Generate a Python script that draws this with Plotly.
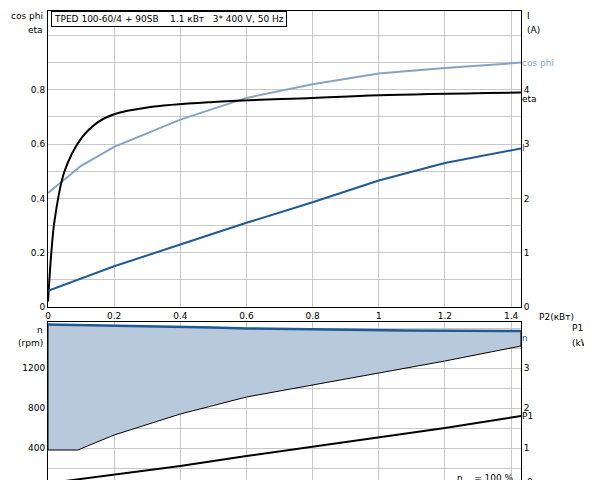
import plotly.graph_objects as go

# top chart: cos phi, eta (left), I (right) vs P2
p2_cos = [0, 0.1, 0.2, 0.4, 0.6, 0.8, 1.0, 1.2, 1.43]
cos_phi = [0.42, 0.52, 0.59, 0.69, 0.77, 0.82, 0.86, 0.88, 0.90]
p2_eta = [0, 0.01, 0.02, 0.05, 0.1, 0.15, 0.2, 0.3, 0.5, 0.8, 1.0, 1.43]
eta = [0.02, 0.2, 0.32, 0.5, 0.62, 0.68, 0.71, 0.735, 0.755, 0.77, 0.78, 0.79]
p2_i = [0, 0.2, 0.4, 0.6, 0.8, 1.0, 1.2, 1.43]
current = [0.3, 0.75, 1.15, 1.55, 1.93, 2.33, 2.65, 2.92]

# bottom chart: speed band (rpm) and P1 (kW)
p2_n = [0, 0.2, 0.35, 0.5, 0.6, 0.8, 1.08, 1.43]
n_max = [1635, 1625, 1615, 1605, 1595, 1585, 1575, 1570]
p2_nmin = [0, 0.09, 0.2, 0.4, 0.6, 0.8, 1.0, 1.2, 1.43]
n_min = [380, 380, 530, 740, 910, 1030, 1150, 1270, 1420]
p2_p1 = [0, 0.2, 0.4, 0.6, 0.8, 1.0, 1.2, 1.43]
p1 = [0.12, 0.33, 0.55, 0.8, 1.03, 1.27, 1.5, 1.8]

blue = "#1f5a96"
light = "#87a3c3"
grid = "#c8c8c8"
font = dict(family="DejaVu Sans", size=9, color="black")

fig = go.Figure()
fig.add_trace(go.Scatter(x=p2_cos, y=cos_phi, mode="lines", line=dict(color=light, width=2), xaxis="x", yaxis="y"))
fig.add_trace(go.Scatter(x=p2_eta, y=eta, mode="lines", line=dict(color="black", width=2, shape="spline"), xaxis="x", yaxis="y"))
fig.add_trace(go.Scatter(x=p2_i, y=current, mode="lines", line=dict(color=blue, width=2), xaxis="x", yaxis="y2"))

# shaded speed region
fx = p2_n + [p2_nmin[-1]] + p2_nmin[::-1] + [0]
fy = n_max + [n_min[-1]] + n_min[::-1] + [n_max[0]]
fig.add_trace(go.Scatter(x=fx, y=fy, fill="toself", fillcolor="#b7c9da", mode="lines",
                         line=dict(color="black", width=1), xaxis="x2", yaxis="y3"))
fig.add_trace(go.Scatter(x=p2_n, y=n_max, mode="lines", line=dict(color=blue, width=2.5), xaxis="x2", yaxis="y3"))
fig.add_trace(go.Scatter(x=p2_p1, y=p1, mode="lines", line=dict(color="black", width=2), xaxis="x2", yaxis="y4"))

top = [1 - 299 / 480, 1 - 3 / 480]
bot = [1 - 475 / 480, 1 - 314 / 480]
xr = [0, 1.43]
ax = dict(showgrid=True, gridcolor=grid, zeroline=False, showline=True, linecolor="black", mirror=True,
          ticks="", tickfont=font, automargin=False)
yt = [i / 10 for i in range(11)]
xt = [0, 0.2, 0.4, 0.6, 0.8, 1, 1.2, 1.4]
fig.update_layout(
    width=592, height=480, showlegend=False, plot_bgcolor="white", paper_bgcolor="white",
    margin=dict(l=40, r=79, t=0, b=0), font=font,
    xaxis=dict(ax, domain=[0, 1], range=xr, anchor="y", tickvals=xt,
               ticktext=["0", "0.2", "0.4", "0.6", "0.8", "1", "1.2", "1.4"]),
    yaxis=dict(ax, domain=top, range=[0, 1.09], tickvals=yt,
               ticktext=[("%g" % v) if i % 2 == 0 and i < 10 else "" for i, v in enumerate(yt)]),
    yaxis2=dict(ax, overlaying="y", side="right", range=[0, 5.45], tickvals=[0, 1, 2, 3, 4], showgrid=False, mirror=False),
    xaxis2=dict(ax, domain=[0, 1], range=xr, anchor="y3", tickvals=xt, showticklabels=False),
    yaxis3=dict(ax, domain=bot, range=[50, 1660], tickvals=[200, 400, 600, 800, 1000, 1200, 1400, 1600],
                ticktext=["", "400", "", "800", "", "1200", "", ""]),
    yaxis4=dict(ax, overlaying="y3", side="right", range=[0.125, 4.15], tickvals=[1, 2, 3], showgrid=False, mirror=False),
)

# curve end labels
ends = [
    (cos_phi[-1], "cos phi", light, "x domain", "y"),
    (eta[-1], "eta", "black", "x domain", "y"),
    (current[-1], "I", blue, "x domain", "y2"),
    (p1[-1], "P1", "black", "x2 domain", "y4"),
    (n_max[-1], "n", blue, "x2 domain", "y3"),
]
for y, t, c, xr_, yr_ in ends:
    fig.add_annotation(x=1, y=y, xref=xr_, yref=yr_, text=t, showarrow=False, xanchor="left", xshift=-1,
                       yanchor="top" if t in ("eta", "n") else "middle",
                       font=dict(family="DejaVu Sans", size=9, color=c))

# figure-pixel positioned labels
paper = [
    (37, 8, "cos phi", "right"), (37, 22, "eta", "right"),
    (517, 8, "I", "left"), (517, 22, "(A)", "left"),
    (37, 322, "n", "right"), (37, 335, "(rpm)", "right"),
    (562, 320, "P1", "left"), (562, 335, "(kW)", "left"),
    (548, 309, "P2(кВт)", "center"), (517, 474, "0", "left"),
    (508, 470, "n    = 100 %", "right"),
]
for px, py, t, a in paper:
    fig.add_annotation(x=(px - 40) / 473, y=1 - py / 480, xref="paper", yref="paper", text=t, showarrow=False,
                       xanchor=a, yanchor="middle", font=font)
fig.add_annotation(x=3 / 473, y=1 - 11 / 480, xref="paper", yref="paper", xanchor="left", yanchor="middle",
                   text="TPED 100-60/4 + 90SB    1.1 кВт   3* 400 V, 50 Hz", showarrow=False,
                   bordercolor="black", borderwidth=1, bgcolor="white", borderpad=2, font=font)

fig.write_html("out.html")
